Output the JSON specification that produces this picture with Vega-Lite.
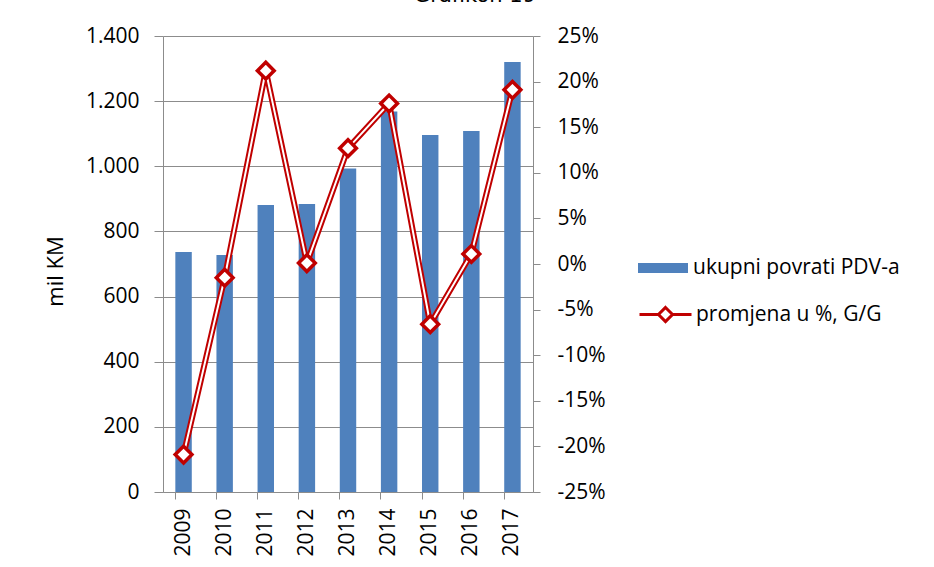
{
  "$schema": "https://vega.github.io/schema/vega-lite/v6.json",
  "autosize": {"type": "none"},
  "padding": {"left": 163, "top": 36, "right": 401, "bottom": 75},
  "width": 370,
  "height": 456,
  "background": "white",
  "title": {
    "text": "Grafikon 19",
    "font": "DejaVu Sans",
    "fontSize": 21,
    "fontWeight": "normal",
    "color": "#000000",
    "anchor": "middle",
    "frame": "group",
    "baseline": "alphabetic",
    "offset": 2,
    "dx": 127
  },
  "config": {
    "locale": {"number": {"decimal": ",", "thousands": ".", "grouping": [3], "currency": ["", ""], "minus": "-"}},
    "view": {"stroke": null},
    "font": "Open Sans",
    "axis": {
      "labelFont": "Open Sans",
      "labelFontSize": 21,
      "labelColor": "#000000",
      "titleFont": "Open Sans",
      "titleFontSize": 22,
      "titleFontWeight": "normal",
      "titleColor": "#000000",
      "domainColor": "#8c8c8c",
      "tickColor": "#8c8c8c",
      "gridColor": "#8c8c8c",
      "domainWidth": 1,
      "tickWidth": 1,
      "gridWidth": 1
    },
    "legend": {
      "labelFont": "Open Sans",
      "labelFontSize": 21,
      "labelColor": "#000000",
      "labelLimit": 0,
      "padding": 0
    }
  },
  "data": {
    "values": [
      {"godina": "2009", "povrati": 737, "promjena": -0.209},
      {"godina": "2010", "povrati": 728, "promjena": -0.015},
      {"godina": "2011", "povrati": 881, "promjena": 0.212},
      {"godina": "2012", "povrati": 884, "promjena": 0.001},
      {"godina": "2013", "povrati": 993, "promjena": 0.127},
      {"godina": "2014", "povrati": 1168, "promjena": 0.176},
      {"godina": "2015", "povrati": 1096, "promjena": -0.066},
      {"godina": "2016", "povrati": 1108, "promjena": 0.011},
      {"godina": "2017", "povrati": 1320, "promjena": 0.191}
    ]
  },
  "encoding": {
    "x": {
      "field": "godina",
      "type": "nominal",
      "scale": {"paddingInner": 0.6, "paddingOuter": 0.3},
      "axis": {
        "title": null,
        "labelAngle": 270,
        "labelAlign": "right",
        "labelBaseline": "middle",
        "tickSize": 7,
        "labelPadding": 9,
        "bandPosition": 0,
        "grid": false
      }
    }
  },
  "layer": [
    {
      "mark": {"type": "bar", "color": "#4F81BD"},
      "encoding": {
        "y": {
          "field": "povrati",
          "type": "quantitative",
          "scale": {"domain": [0, 1400], "nice": false},
          "axis": {
            "title": "mil KM",
            "format": ",d",
            "values": [0, 200, 400, 600, 800, 1000, 1200, 1400],
            "grid": true,
            "tickSize": 9,
            "labelPadding": 15,
            "titleAngle": -90,
            "titleX": -108,
            "titleY": 235,
            "titleAlign": "center",
            "titleBaseline": "middle"
          }
        },
        "fill": {
          "datum": "ukupni povrati PDV-a",
          "scale": {"range": ["#4F81BD"]},
          "legend": {
            "title": null,
            "orient": "none",
            "legendX": 475,
            "legendY": 207,
            "symbolType": "M-1,-0.2H1V0.2H-1Z",
            "symbolSize": 2500,
            "symbolStrokeWidth": 0,
            "labelOffset": 5
          }
        }
      }
    },
    {
      "mark": {"type": "line", "strokeWidth": 6, "color": "#C00000"},
      "encoding": {
        "y": {
          "field": "promjena",
          "type": "quantitative",
          "scale": {"domain": [-0.25, 0.25], "nice": false},
          "axis": {
            "orient": "right",
            "title": null,
            "format": ".0%",
            "values": [-0.25, -0.2, -0.15, -0.1, -0.05, 0, 0.05, 0.1, 0.15, 0.2, 0.25],
            "grid": false,
            "tickSize": 7,
            "labelAlign": "left",
            "labelPadding": 17
          }
        },
        "stroke": {
          "datum": "promjena u %, G/G",
          "scale": {"range": ["#C00000"]},
          "legend": {
            "title": null,
            "orient": "none",
            "legendX": 475,
            "legendY": 251,
            "symbolType": "M-1,0H-0.27M0.27,0H1M0,-0.27L0.27,0L0,0.27L-0.27,0Z",
            "symbolSize": 2704,
            "symbolStrokeWidth": 3,
            "symbolStrokeColor": "#C00000",
            "symbolFillColor": "#ffffff",
            "labelOffset": 3
          }
        }
      }
    },
    {
      "mark": {"type": "line", "strokeWidth": 2, "color": "#ffffff"},
      "encoding": {
        "y": {"field": "promjena", "type": "quantitative", "scale": {"domain": [-0.25, 0.25], "nice": false}, "axis": null}
      }
    },
    {
      "mark": {"type": "point", "shape": "diamond", "filled": true, "fill": "#ffffff", "stroke": "#C00000", "strokeWidth": 3.5, "size": 280, "opacity": 1},
      "encoding": {
        "y": {"field": "promjena", "type": "quantitative", "scale": {"domain": [-0.25, 0.25], "nice": false}, "axis": null}
      }
    }
  ],
  "resolve": {"scale": {"y": "independent"}}
}
